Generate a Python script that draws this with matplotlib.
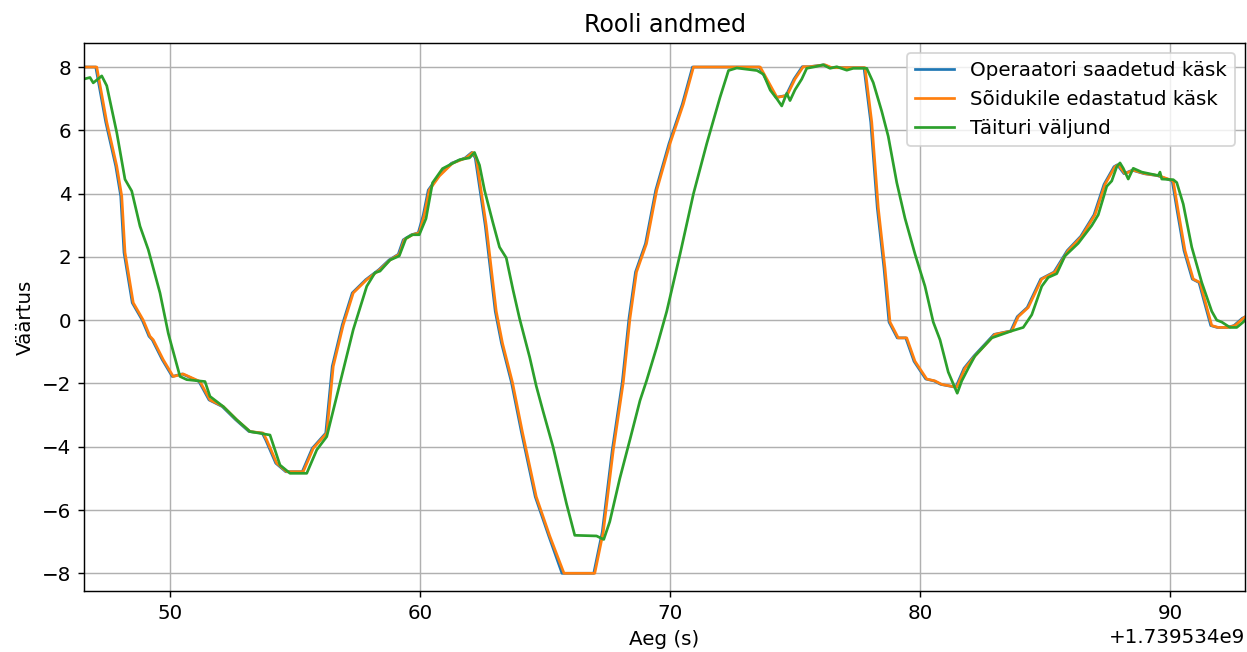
import matplotlib
matplotlib.use("Agg")
import matplotlib.pyplot as plt
import numpy as np

T0 = 1739534000

# operaatori saadetud käsk (sinine)
t_op = [46.56, 47.03, 47.43, 47.83, 48.03, 48.16, 48.49, 48.89, 49.16, 49.29, 49.69, 50.09,
        50.49, 51.16, 51.56, 52.09, 52.63, 53.16, 53.69, 53.83, 54.23, 54.63, 55.29, 55.69,
        56.23, 56.49, 56.89, 57.29, 57.83, 58.36, 58.76, 59.13, 59.33, 59.66, 59.93, 60.13,
        60.33, 60.74, 61.26, 61.81, 62.07, 62.21, 62.61, 63.01, 63.26, 63.66, 64.06, 64.61,
        65.15, 65.68, 66.95, 67.29, 67.69, 68.09, 68.36, 68.62, 69.02, 69.43, 69.96, 70.49,
        70.9, 73.57, 74.24, 74.64, 74.96, 75.29, 75.56, 76.16, 76.43, 77.09, 77.76, 78.03,
        78.29, 78.56, 78.76, 79.09, 79.43, 79.76, 80.23, 80.56, 80.83, 81.23, 81.43, 81.76,
        82.16, 82.56, 82.96, 83.63, 83.89, 84.29, 84.83, 85.36, 85.89, 86.43, 86.96, 87.36,
        87.76, 87.89, 88.16, 88.49, 88.96, 89.49, 89.96, 90.09, 90.29, 90.56, 90.89, 91.16,
        91.63, 91.89, 92.29, 92.56, 92.89, 93.0]
v_op = [8.0, 8.0, 6.26, 4.87, 3.92, 2.14, 0.55, 0.0, -0.51, -0.62, -1.25, -1.78,
        -1.70, -1.94, -2.52, -2.73, -3.15, -3.52, -3.57, -3.79, -4.52, -4.79, -4.79, -4.05,
        -3.57, -1.46, -0.15, 0.86, 1.28, 1.6, 1.9, 2.08, 2.54, 2.70, 2.76, 3.32,
        4.11, 4.56, 4.96, 5.13, 5.30, 5.13, 2.99, 0.28, -0.73, -1.97, -3.55, -5.58,
        -6.82, -8.0, -8.0, -6.70, -4.11, -1.97, 0.06, 1.52, 2.42, 4.11, 5.58, 6.82,
        8.0, 8.0, 7.04, 7.10, 7.62, 8.01, 8.01, 8.07, 7.98, 7.98, 7.98, 6.26,
        3.56, 1.64, -0.06, -0.56, -0.56, -1.30, -1.86, -1.92, -2.03, -2.09, -2.12, -1.52,
        -1.13, -0.79, -0.45, -0.34, 0.11, 0.40, 1.30, 1.52, 2.20, 2.65, 3.33, 4.29,
        4.85, 4.91, 4.63, 4.74, 4.63, 4.57, 4.44, 4.40, 3.44, 2.20, 1.30, 1.19,
        -0.17, -0.23, -0.23, -0.17, 0.06, 0.1]

# sõidukile edastatud käsk (oranž)
t_fw = [46.56, 47.07, 47.47, 47.87, 48.07, 48.2, 48.53, 48.93, 49.2, 49.33, 49.73, 50.13,
        50.53, 51.2, 51.6, 52.13, 52.67, 53.2, 53.73, 53.87, 54.27, 54.67, 55.33, 55.73,
        56.27, 56.53, 56.93, 57.33, 57.87, 58.4, 58.8, 59.17, 59.37, 59.7, 59.97, 60.17,
        60.37, 60.78, 61.3, 61.85, 62.11, 62.25, 62.65, 63.05, 63.3, 63.7, 64.1, 64.65,
        65.19, 65.76, 66.99, 67.33, 67.73, 68.13, 68.4, 68.66, 69.06, 69.47, 70.0, 70.53,
        70.94, 73.61, 74.28, 74.68, 75.0, 75.33, 75.6, 76.2, 76.47, 77.13, 77.8, 78.07,
        78.33, 78.6, 78.8, 79.13, 79.47, 79.8, 80.27, 80.6, 80.87, 81.27, 81.47, 81.8,
        82.2, 82.6, 83.0, 83.67, 83.93, 84.33, 84.87, 85.4, 85.93, 86.47, 87.0, 87.4,
        87.8, 87.93, 88.2, 88.53, 89.0, 89.53, 90.0, 90.13, 90.33, 90.6, 90.93, 91.2,
        91.67, 91.93, 92.33, 92.6, 92.93, 93.0]
v_fw = v_op

# täituri väljund (roheline)
t_act = [46.56, 46.8, 46.93, 47.27, 47.47, 47.87, 48.2, 48.47, 48.8, 49.13, 49.6, 49.93,
         50.0, 50.4, 50.67, 51.4, 51.6, 52.13, 52.67, 53.2, 54.0, 54.4, 54.8, 55.47,
         55.87, 56.27, 56.8, 57.33, 57.87, 58.2, 58.4, 58.8, 59.17, 59.44, 59.7, 59.97,
         60.24, 60.5, 60.9, 61.58, 61.98, 62.18, 62.38, 62.58, 62.91, 63.18, 63.45, 63.72,
         63.98, 64.39, 64.65, 64.92, 65.32, 65.86, 66.19, 67.06, 67.35, 67.59, 67.99, 68.4,
         68.8, 69.06, 69.47, 69.87, 70.4, 70.94, 71.47, 72.0, 72.34, 72.67, 73.48, 73.74,
         74.01, 74.28, 74.47, 74.67, 74.8, 75.0, 75.27, 75.47, 75.8, 76.13, 76.4, 76.67,
         77.07, 77.33, 77.87, 78.13, 78.47, 78.73, 79.07, 79.4, 79.8, 80.2, 80.53, 80.8,
         81.13, 81.4, 81.49, 81.67, 81.93, 82.2, 82.87, 83.67, 84.13, 84.47, 84.87, 85.13,
         85.47, 85.8, 86.33, 86.87, 87.13, 87.47, 87.67, 87.87, 88.0, 88.13, 88.33, 88.53,
         88.87, 89.53, 89.6, 89.67, 90.13, 90.27, 90.53, 90.87, 91.27, 91.67, 91.87, 92.07,
         92.4, 92.67, 92.93, 93.0]
v_act = [7.62, 7.67, 7.5, 7.72, 7.41, 5.93, 4.45, 4.08, 2.97, 2.23, 0.86, -0.41,
         -0.62, -1.78, -1.88, -1.94, -2.41, -2.73, -3.15, -3.52, -3.63, -4.58, -4.84, -4.84,
         -4.10, -3.68, -1.99, -0.30, 1.07, 1.5, 1.55, 1.9, 2.03, 2.59, 2.70, 2.70,
         3.21, 4.34, 4.79, 5.07, 5.13, 5.30, 4.90, 4.11, 3.10, 2.31, 1.97, 0.96,
         0.06, -1.18, -2.08, -2.87, -4.0, -5.8, -6.8, -6.82, -6.93, -6.37, -5.01, -3.77,
         -2.54, -1.92, -0.85, 0.28, 2.08, 4.0, 5.58, 7.04, 7.89, 7.97, 7.89, 7.77,
         7.27, 6.99, 6.77, 7.17, 6.94, 7.28, 7.62, 7.96, 8.01, 8.07, 7.96, 8.01,
         7.90, 7.96, 7.96, 7.51, 6.60, 5.81, 4.35, 3.22, 2.09, 1.07, -0.06, -0.62,
         -1.64, -2.14, -2.31, -1.92, -1.52, -1.13, -0.56, -0.34, -0.23, 0.17, 1.07, 1.35,
         1.47, 2.03, 2.43, 2.99, 3.33, 4.23, 4.40, 4.85, 4.97, 4.80, 4.46, 4.80,
         4.68, 4.57, 4.68, 4.46, 4.44, 4.35, 3.67, 2.31, 1.19, 0.28, 0.0, -0.06,
         -0.23, -0.23, -0.06, 0.0]

plt.rcParams["font.size"] = 11

fig = plt.figure(figsize=(1247 / 130, 652 / 130), dpi=130)
ax = fig.add_axes([84 / 1247, 61 / 652, 1161 / 1247, 548 / 652])

ax.plot(np.array(t_op) + T0, v_op, label="Operaatori saadetud käsk")
ax.plot(np.array(t_fw) + T0, v_fw, label="Sõidukile edastatud käsk")
ax.plot(np.array(t_act) + T0, v_act, label="Täituri väljund")

ax.set_xlim(T0 + 46.56, T0 + 93.0)
ax.set_ylim(-8.56, 8.76)
ax.set_title("Rooli andmed")
ax.set_xlabel("Aeg (s)")
ax.set_ylabel("Väärtus")
ax.grid(True)
ax.legend(loc="upper right")

fig.savefig("out.png", dpi=130)
